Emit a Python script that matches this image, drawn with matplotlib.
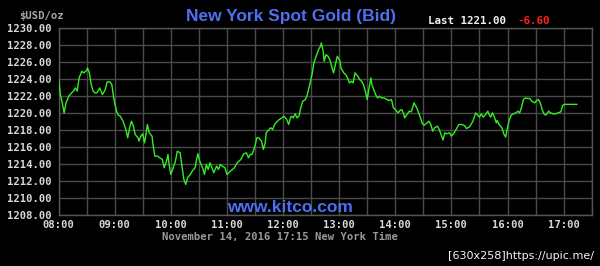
import matplotlib
matplotlib.use("Agg")
import matplotlib.pyplot as plt

# minutes after 08:00 (New York time), bid price in USD/oz
minutes = [0, 2, 4, 6, 8, 11, 14, 16, 18, 20, 22, 25, 27, 30, 31, 33, 35, 37, 39, 41,
           44, 47, 50, 52, 55, 57, 59, 62, 64, 66, 69, 72, 74, 76, 78, 80, 82, 85, 86, 88,
           90, 92, 94, 95, 97, 100, 101, 103, 106, 108, 111, 113, 116, 117, 118, 120, 122, 125, 127, 130,
           132, 134, 136, 138, 141,
           143, 146, 148, 149, 151, 154, 156, 158, 160, 162, 164, 166, 169, 171, 173, 175, 178, 180, 184, 188,
           191, 195, 198, 201, 203, 205, 207, 210, 212, 214, 217, 219, 221, 222, 225, 227, 229, 231, 234, 236,
           239, 241, 244, 246, 248, 249, 251, 253, 255, 257, 259, 261, 264, 266, 269, 271, 273, 276, 278, 280,
           281, 283, 284, 286, 288, 290, 292, 294, 296, 298, 301, 302, 305, 307, 309, 311, 313, 315, 317, 320,
           322, 324, 326, 328, 330, 332, 334, 335, 337, 339, 341, 343, 345, 348, 351, 353, 356, 358, 360, 363,
           365, 367, 369, 370, 373, 375, 377, 379, 380, 383, 385, 387, 389, 391, 394, 396, 398, 400, 402, 405,
           407, 409, 411, 413, 415, 418,
           420, 423, 425, 428, 431, 434, 436, 439, 441, 443, 446, 448, 450, 452, 454, 456, 459, 460, 462, 464,
           466, 468, 469, 471, 474, 476, 478, 480, 482, 484, 486, 489, 491, 493, 495, 497, 499, 502, 504, 506,
           509, 511, 513, 515, 517, 519, 521, 524, 526, 529, 531, 534, 537, 539, 541, 546, 550, 554]
prices = [1224.12, 1222.16, 1221.18, 1220.00, 1221.18, 1221.96, 1222.35, 1222.55, 1222.94, 1222.55,
          1224.12, 1224.90, 1224.71, 1224.98, 1225.29, 1224.71, 1223.33, 1222.55, 1222.35, 1222.35,
          1222.94, 1222.16, 1222.75, 1223.65, 1223.65, 1223.33, 1221.76, 1220.20, 1219.73, 1219.61,
          1219.02, 1218.04, 1217.06, 1218.24, 1219.02, 1218.43, 1217.45, 1217.06, 1216.67, 1217.25,
          1217.53, 1216.47, 1217.84, 1218.63, 1217.65, 1217.25, 1216.27, 1214.90, 1214.90, 1214.71,
          1214.51, 1213.53, 1214.51, 1215.10, 1214.12, 1212.75, 1213.33, 1214.31, 1215.49, 1215.29,
          1213.73, 1212.16, 1211.57, 1212.35, 1212.75,
          1213.14, 1213.53, 1214.71, 1215.18, 1214.31, 1213.53, 1212.75, 1213.92, 1213.33, 1214.12,
          1213.53, 1212.94, 1213.73, 1213.33, 1213.92, 1213.73, 1213.53, 1212.75, 1213.14, 1213.53,
          1214.12, 1214.51, 1215.18, 1215.29, 1214.71, 1215.10, 1215.10, 1216.08, 1217.06, 1217.06,
          1216.67, 1215.69, 1216.47, 1217.65, 1218.04, 1218.24, 1218.04, 1218.63, 1219.02, 1219.22,
          1219.41, 1219.61, 1219.22, 1218.63, 1219.41, 1219.61, 1219.41, 1219.88, 1219.41, 1219.61,
          1220.59, 1221.37, 1221.57, 1222.16, 1223.53, 1224.51, 1225.88, 1226.86, 1227.45, 1227.84,
          1228.24, 1227.25, 1226.08, 1226.86, 1226.67, 1226.27, 1225.49, 1224.71, 1225.69, 1226.67,
          1226.08, 1225.29, 1224.71, 1224.51, 1224.12, 1223.53, 1223.73, 1223.53, 1224.71, 1224.31,
          1223.92, 1223.73, 1223.33, 1222.55, 1221.57, 1222.94, 1224.12, 1223.33, 1222.75, 1222.16,
          1221.76, 1221.96, 1221.76, 1221.76, 1221.57, 1221.45, 1221.57, 1220.59, 1220.39, 1220.00,
          1220.27, 1220.39, 1219.88, 1219.41, 1219.88, 1220.20, 1220.12, 1220.78, 1221.18, 1220.59,
          1220.00, 1219.41, 1218.71, 1218.55, 1218.82, 1219.02, 1218.63, 1217.84, 1218.24, 1218.43,
          1218.04, 1217.45, 1216.78, 1217.65, 1217.53, 1217.65,
          1217.25, 1217.65, 1218.04, 1218.63, 1218.63, 1218.51, 1218.16, 1218.31, 1218.63, 1219.02,
          1220.00, 1219.73, 1219.49, 1219.88, 1219.49, 1219.73, 1220.20, 1219.88, 1219.49, 1220.00,
          1219.49, 1218.82, 1219.10, 1218.63, 1218.24, 1217.53, 1217.14, 1218.24, 1219.22, 1219.73,
          1219.88, 1220.00, 1220.20, 1220.00, 1220.67, 1221.57, 1221.76, 1221.69, 1221.69, 1221.37,
          1221.18, 1221.45, 1221.57, 1221.18, 1220.39, 1219.88, 1219.73, 1220.20, 1220.00, 1219.88,
          1219.88, 1220.00, 1220.12, 1220.90, 1221.00, 1221.00, 1221.00, 1221.00]

hour_ticks = [8, 9, 10, 11, 12, 13, 14, 15, 16, 17]
hour_labels = ["08:00", "09:00", "10:00", "11:00", "12:00", "13:00", "14:00", "15:00", "16:00", "17:00"]
price_ticks = [1208, 1210, 1212, 1214, 1216, 1218, 1220, 1222, 1224, 1226, 1228, 1230]
price_labels = ["%.2f" % p for p in price_ticks]

title = "New York Spot Gold (Bid)"
last_text = "Last 1221.00"
change_text = "-6.60"
unit_text = "$USD/oz"
date_text = "November 14, 2016 17:15 New York Time"
site_text = "www.kitco.com"
mark_text = "[630x258]https://upic.me/"

hours = [8 + m / 60.0 for m in minutes]

fig = plt.figure(figsize=(6.0, 2.66), dpi=100, facecolor="black")
ax = fig.add_axes([58.5 / 600, 1 - 214.7 / 266, 533.2 / 600, (214.7 - 28) / 266])
ax.set_facecolor("black")

ax.plot(hours, prices, color="#33ee22", lw=1.0, zorder=3)

ax.set_xlim(8, 17.5)
ax.set_ylim(1208, 1230)
ax.set_xticks(hour_ticks)
ax.set_xticklabels(hour_labels)
ax.set_xticks([h + 0.5 for h in hour_ticks], minor=True)
ax.set_yticks(price_ticks)
ax.set_yticklabels(price_labels)

mono = {"family": "DejaVu Sans Mono", "weight": "bold"}
for lab in ax.get_xticklabels() + ax.get_yticklabels():
    lab.set_fontfamily("DejaVu Sans Mono")
    lab.set_fontweight("bold")
    lab.set_fontsize(7.6)
    lab.set_color("#d8d8d8")

ax.tick_params(axis="both", which="both", length=0)
ax.tick_params(axis="y", pad=5)
ax.tick_params(axis="x", pad=4)
ax.grid(True, which="both", color="#4a4a4a", lw=1.0, zorder=1)
for s in ax.spines.values():
    s.set_color("#555555")
    s.set_linewidth(1.0)

fig.text(291 / 600, 1 - 16 / 266, title, color="#4f6ff0", fontsize=12.5,
         fontfamily="Liberation Sans", fontweight="bold", ha="center", va="center")
fig.text(41 / 600, 1 - 16 / 266, unit_text, color="#a8a8a8", fontsize=7.6,
         ha="center", va="center", **mono)
fig.text(428 / 600, 1 - 21 / 266, last_text, color="#f0f0f0", fontsize=7.8,
         ha="left", va="center", **mono)
fig.text(517 / 600, 1 - 21 / 266, change_text, color="#ff2020", fontsize=7.8,
         ha="left", va="center", **mono)
fig.text(290 / 600, 1 - 208 / 266, site_text, color="#4f6ff0", fontsize=12.5,
         fontfamily="Liberation Sans", fontweight="bold", ha="center", va="center")
fig.text(280 / 600, 1 - 237 / 266, date_text, color="#9a9a9a", fontsize=7.6,
         ha="center", va="center", **mono)
fig.text(594 / 600, 1 - 256 / 266, mark_text, color="#f4f4f4", fontsize=8,
         fontfamily="DejaVu Sans", ha="right", va="center")

fig.savefig("out.png", dpi=100, facecolor="black")
